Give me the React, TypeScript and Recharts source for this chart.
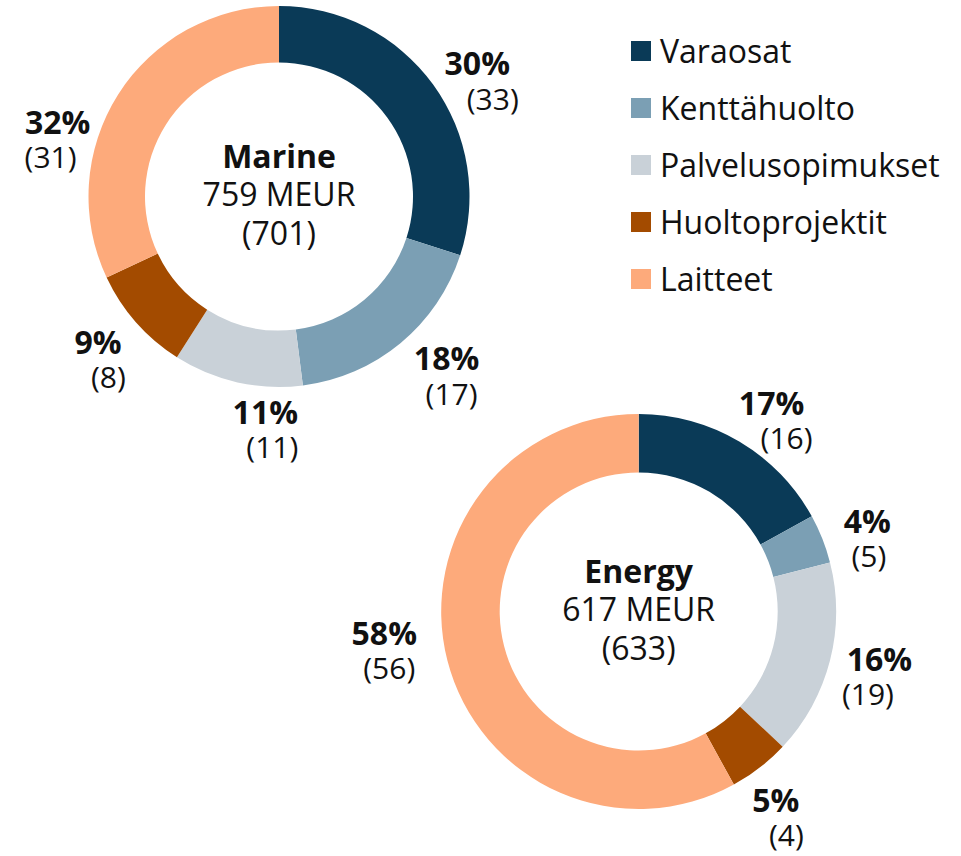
import React from 'react';
import { PieChart, Pie, Cell, Legend } from 'recharts';

const categories = ['Varaosat', 'Kenttähuolto', 'Palvelusopimukset', 'Huoltoprojektit', 'Laitteet'];
const colors = ['#0A3A57', '#7B9FB4', '#C9D1D8', '#A34B00', '#FDAA7B'];

const marineShare = [30, 18, 11, 9, 32];
const marinePrev = [33, 17, 11, 8, 31];
const marineTitle = 'Marine';
const marineTotal = '759 MEUR';
const marineTotalPrev = '(701)';

const energyShare = [17, 4, 16, 5, 58];
const energyPrev = [16, 5, 19, 4, 56];
const energyTitle = 'Energy';
const energyTotal = '617 MEUR';
const energyTotalPrev = '(633)';

const FONT = '"Open Sans", "Noto Sans", sans-serif';
const FS_BOLD = 32;
const FS_PAREN = 30;
const FS_CENTER = 32;
const FS_LEGEND = 32;
const TXT = '#111';
const RAD = Math.PI / 180;

// label placement tweaks (angle shift in deg clockwise, gap beyond outer radius, paren line horizontal shift)
const marineLabelLayout = [
  { shift: 6.8, gap: 45.5, d: 15.5 },
  { shift: -3.8, gap: 57, d: 5 },
  { shift: -10.1, gap: 43, d: 7 },
  { shift: -1.5, gap: 49.5, d: 10.5 },
  { shift: -18.2, gap: 41.5, d: -7 },
];
const energyLabelLayout = [
  { shift: 5.8, gap: 39, d: 15 },
  { shift: 4.1, gap: 43, d: 1.5 },
  { shift: 1.2, gap: 46.5, d: -11.5 },
  { shift: 3.2, gap: 53.3, d: 10.5 },
  { shift: 5.5, gap: 57.5, d: 5 },
];

const toRows = (share: number[]) => categories.map((name, i) => ({ name, value: share[i] }));

const centerText = (cx: number, cy: number, title: string, total: string, prevTotal: string) => (
  <g>
    <text x={cx} y={cy - 29} textAnchor="middle" fontFamily={FONT} fontSize={FS_CENTER} fontWeight={700} fill={TXT}>{title}</text>
    <text x={cx} y={cy + 9.5} textAnchor="middle" fontFamily={FONT} fontSize={FS_CENTER} fill={TXT}>{total}</text>
    <text x={cx} y={cy + 48} textAnchor="middle" fontFamily={FONT} fontSize={FS_CENTER} fill={TXT}>{prevTotal}</text>
  </g>
);

const makeLabel = (share: number[], prev: number[], layout: any[], title: string, total: string, prevTotal: string) => (props: any) => {
  const { cx, cy, midAngle, outerRadius, index } = props;
  const L = layout[index];
  const ang = midAngle - L.shift;
  const r = outerRadius + L.gap;
  const x = cx + r * Math.cos(-ang * RAD);
  const y = cy + r * Math.sin(-ang * RAD);
  return (
    <g key={`lbl-${index}`}>
      {index === 0 ? centerText(cx, cy, title, total, prevTotal) : null}
      <text x={x - L.d / 2} y={y - 17.5 + FS_BOLD * 0.357} textAnchor="middle" fontFamily={FONT} fontSize={FS_BOLD} fontWeight={700} fill={TXT}>
        {share[index]}%
      </text>
      <text x={x + L.d / 2} y={y + 17.5 + FS_PAREN * 0.357} textAnchor="middle" fontFamily={FONT} fontSize={FS_PAREN} fill={TXT}>
        ({prev[index]})
      </text>
    </g>
  );
};

const renderLegend = () => (
  <div style={{ fontFamily: FONT, fontSize: FS_LEGEND, color: TXT }}>
    {categories.map((c, i) => (
      <div key={c} style={{ display: 'flex', alignItems: 'center', height: 57 }}>
        <div style={{ width: 20, height: 20, background: colors[i], marginRight: 9, flex: '0 0 auto' }} />
        <span style={{ lineHeight: '20px', whiteSpace: 'nowrap' }}>{c}</span>
      </div>
    ))}
  </div>
);

export default function App() {
  return (
    <div style={{ position: 'absolute', left: 0, top: 0, width: 961, height: 856, background: '#fff' }}>
      <PieChart width={961} height={856} margin={{ top: 0, right: 0, bottom: 0, left: 0 }}>
        <Pie
          data={toRows(marineShare)}
          dataKey="value"
          nameKey="name"
          cx={279}
          cy={196.5}
          innerRadius={134}
          outerRadius={190.5}
          startAngle={90}
          endAngle={-270}
          stroke="none"
          isAnimationActive={false}
          labelLine={false}
          label={makeLabel(marineShare, marinePrev, marineLabelLayout, marineTitle, marineTotal, marineTotalPrev)}
        >
          {categories.map((c, i) => <Cell key={c} fill={colors[i]} />)}
        </Pie>
        <Pie
          data={toRows(energyShare)}
          dataKey="value"
          nameKey="name"
          cx={638.7}
          cy={611.5}
          innerRadius={139}
          outerRadius={197.5}
          startAngle={90}
          endAngle={-270}
          stroke="none"
          isAnimationActive={false}
          labelLine={false}
          label={makeLabel(energyShare, energyPrev, energyLabelLayout, energyTitle, energyTotal, energyTotalPrev)}
        >
          {categories.map((c, i) => <Cell key={c} fill={colors[i]} />)}
        </Pie>
        <Legend
          layout="vertical"
          align="right"
          verticalAlign="top"
          content={renderLegend}
          wrapperStyle={{ position: 'absolute', left: 631, top: 22.5, width: 330 }}
        />
      </PieChart>
    </div>
  );
}
